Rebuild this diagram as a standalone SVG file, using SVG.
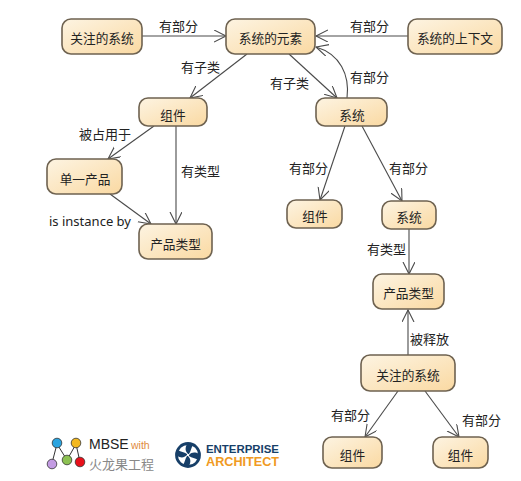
<svg xmlns="http://www.w3.org/2000/svg" width="521" height="481" viewBox="0 0 521 481">
<style>
text{font-family:"Noto Sans CJK SC","Noto Sans",sans-serif;font-size:13px;fill:#222}
.n rect{fill:url(#g);stroke:#6e6250;stroke-width:1.6}
.n text{text-anchor:middle;font-size:12.700px}
.c path{fill:none;stroke:#4a4a4a;stroke-width:1.1;marker-end:url(#a)}
.l{font-family:"Liberation Sans",sans-serif}
</style>
<defs>
<linearGradient id="g" x1="0" y1="0" x2="1" y2="1"><stop offset="0" stop-color="#fdf4e2"/><stop offset="1" stop-color="#fad9a2"/></linearGradient>
<marker id="a" markerUnits="userSpaceOnUse" markerWidth="16" markerHeight="16" refX="12" refY="6" orient="auto"><path d="M0 0L12 6L0 12" fill="none" stroke="#4a4a4a" stroke-width="1.1"/></marker>
<path id="blade" d="M0 -1C-3 -4 -3 -7 -1 -11L5 -10C3 -7 3 -4 1 -1Z" fill="#173f68"/>
</defs>
<rect width="521" height="481" fill="#fff"/>
<g id="connectors" class="c">
<path d="M142 36H226"/>
<path d="M408 36H316"/>
<path d="M247 54L190 98"/>
<path d="M289 54L337 98"/>
<path d="M347 98C350 75 340 54 316 47"/>
<path d="M154 126L108 159"/>
<path d="M176 126V224"/>
<path d="M110 194L151 224"/>
<path d="M345 126L320 200"/>
<path d="M362 126L402 201"/>
<path d="M409 229V274"/>
<path d="M408 355V310"/>
<path d="M398 391L365 437"/>
<path d="M425 391L459 437"/>
</g>
<g id="n1" class="n"><rect x="62" y="19" width="80" height="35" rx="9"/><text x="102" y="43">关注的系统</text></g>
<g id="n2" class="n"><rect x="226" y="19" width="89" height="35" rx="9"/><text x="270.500" y="43">系统的元素</text></g>
<g id="n3" class="n"><rect x="408" y="19" width="94" height="35" rx="9"/><text x="455" y="43">系统的上下文</text></g>
<g id="n4" class="n"><rect x="139" y="98" width="68" height="28" rx="9"/><text x="173" y="120">组件</text></g>
<g id="n5" class="n"><rect x="316" y="98" width="71" height="28" rx="9"/><text x="352" y="120">系统</text></g>
<g id="n6" class="n"><rect x="47" y="159" width="75" height="35" rx="9"/><text x="85" y="184">单一产品</text></g>
<g id="n7" class="n"><rect x="139" y="224" width="73" height="35" rx="9"/><text x="175.500" y="249">产品类型</text></g>
<g id="n8" class="n"><rect x="287" y="200" width="55" height="28" rx="9"/><text x="315" y="221">组件</text></g>
<g id="n9" class="n"><rect x="382" y="201" width="54" height="28" rx="9"/><text x="409" y="222">系统</text></g>
<g id="n10" class="n"><rect x="373" y="274" width="71" height="35" rx="9"/><text x="408.500" y="298">产品类型</text></g>
<g id="n11" class="n"><rect x="361" y="355" width="94" height="36" rx="9"/><text x="408" y="380">关注的系统</text></g>
<g id="n12" class="n"><rect x="323" y="437" width="59" height="31" rx="9"/><text x="352.500" y="460">组件</text></g>
<g id="n13" class="n"><rect x="433" y="437" width="55" height="31" rx="9"/><text x="460.500" y="460">组件</text></g>
<g id="labels">
<text x="159" y="31">有部分</text>
<text x="350" y="31">有部分</text>
<text x="181" y="72">有子类</text>
<text x="270" y="88">有子类</text>
<text x="350" y="82">有部分</text>
<text x="79" y="139">被占用于</text>
<text x="181" y="176">有类型</text>
<text x="49" y="226" style="font-family:'Noto Sans',sans-serif;font-size:13px" textLength="82" lengthAdjust="spacingAndGlyphs">is instance by</text>
<text x="289" y="173">有部分</text>
<text x="389" y="173">有部分</text>
<text x="367" y="254">有类型</text>
<text x="410" y="344">被释放</text>
<text x="331" y="420">有部分</text>
<text x="462" y="425">有部分</text>
</g>
<g id="logo-mbse">
<path d="M57 444L52 463M57 444L67 460M76 444L67 460M76 444L80 462" fill="none" stroke="#333" stroke-width="1"/>
<circle cx="57" cy="443" r="4.800" fill="#2aa4e0" stroke="#333" stroke-width=".8"/>
<circle cx="76" cy="443" r="4.800" fill="#f3b81f" stroke="#333" stroke-width=".8"/>
<circle cx="52" cy="464" r="4.800" fill="#c39be3" stroke="#333" stroke-width=".8"/>
<circle cx="67" cy="460" r="4.800" fill="#8cc152" stroke="#333" stroke-width=".8"/>
<circle cx="80" cy="462" r="4.800" fill="#e8101a" stroke="#333" stroke-width=".8"/>
<text x="89" y="449" class="l" style="font-size:14px;fill:#222">MBSE</text>
<text x="131" y="449" class="l" style="font-size:10.500px;fill:#e08a3c">with</text>
<text x="89" y="469" style="font-size:13px;fill:#888">火龙果工程</text>
</g>
<g id="logo-ea">
<circle cx="188" cy="455" r="11.500" fill="none" stroke="#173f68" stroke-width="2.800"/>
<use href="#blade" transform="translate(188 455)"/>
<use href="#blade" transform="translate(188 455) rotate(90)"/>
<use href="#blade" transform="translate(188 455) rotate(180)"/>
<use href="#blade" transform="translate(188 455) rotate(270)"/>
<text x="206" y="453" class="l" style="font-size:11.500px;font-weight:700;fill:#173f68" textLength="73" lengthAdjust="spacingAndGlyphs">ENTERPRISE</text>
<text x="206" y="466" class="l" style="font-size:12px;font-weight:700;fill:#f09a22" textLength="73" lengthAdjust="spacingAndGlyphs">ARCHITECT</text>
</g>
</svg>
